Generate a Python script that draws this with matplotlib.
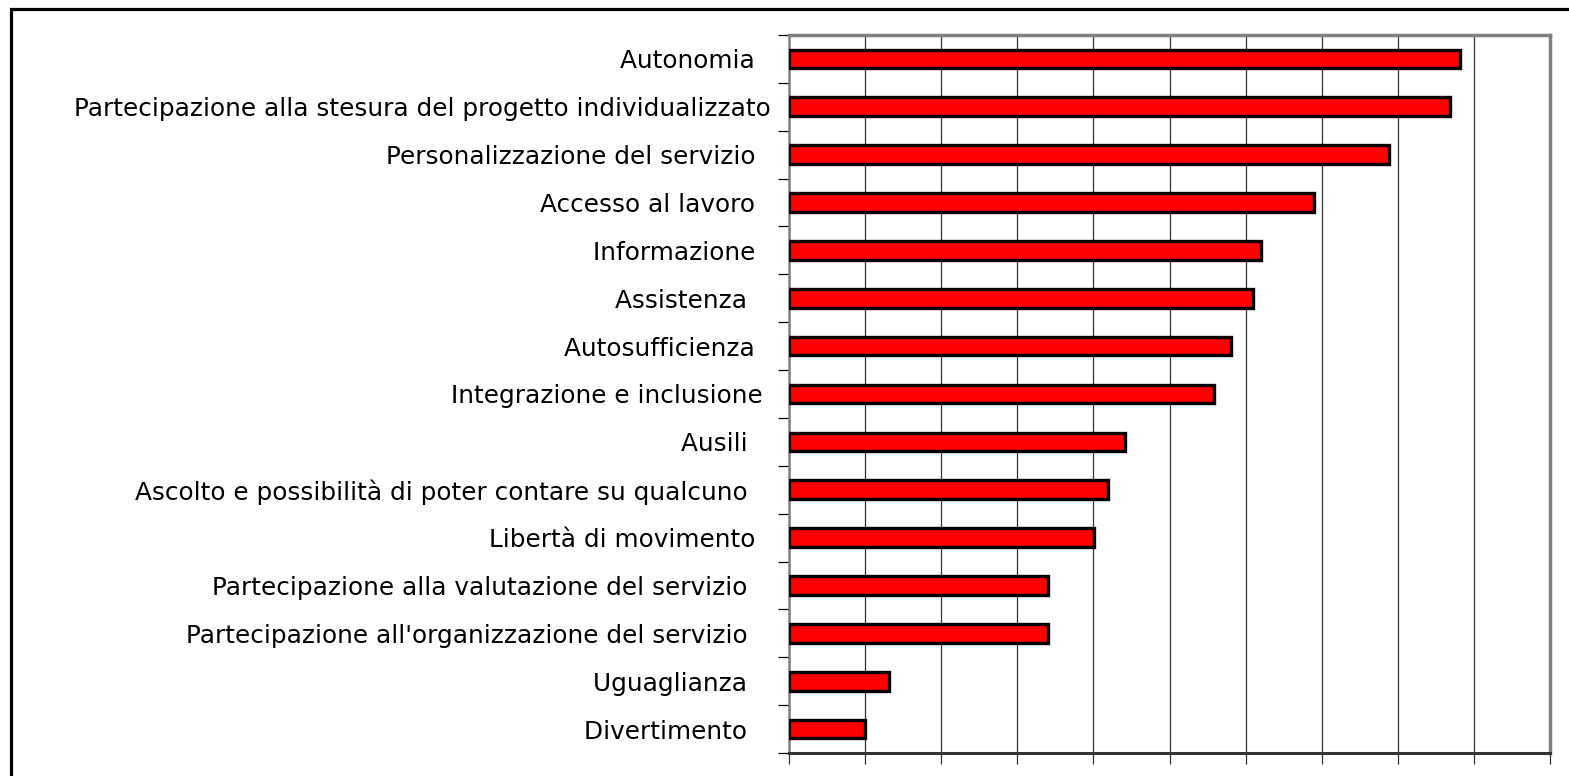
import numpy as np
import matplotlib
matplotlib.use("Agg")
import matplotlib.pyplot as plt
from matplotlib.patches import Rectangle

# categorie (dall'alto verso il basso) e valori
categorie = [
    "Autonomia  ",
    "Partecipazione alla stesura del progetto individualizzato",
    "Personalizzazione del servizio  ",
    "Accesso al lavoro  ",
    "Informazione  ",
    "Assistenza   ",
    "Autosufficienza  ",
    "Integrazione e inclusione ",
    "Ausili   ",
    "Ascolto e possibilità di poter contare su qualcuno   ",
    "Libertà di movimento  ",
    "Partecipazione alla valutazione del servizio   ",
    "Partecipazione all'organizzazione del servizio   ",
    "Uguaglianza   ",
    "Divertimento   ",
]
valori = [8.82, 8.69, 7.89, 6.90, 6.20, 6.10, 5.81, 5.59,
          4.41, 4.19, 4.01, 3.40, 3.40, 1.31, 1.00]

plt.rcParams['font.family'] = ['DejaVu Sans']

W, H = 1569, 776
fig = plt.figure(figsize=(W / 100, H / 100), dpi=100)
fig.patch.set_facecolor('white')

# cornice esterna nera (tagliata a destra e in basso)
fig.patches.append(Rectangle((11 / W, -0.1), 1.2, 1.1 - 9 / H,
                             transform=fig.transFigure, fill=False,
                             edgecolor='black', linewidth=2.3))

ax = fig.add_axes([789 / W, (H - 753) / H, (1550 - 789) / W, (753 - 35) / H])

y = np.arange(len(categorie))
ax.barh(y, valori, height=0.39, color='#ff0000', edgecolor='black',
        linewidth=2.4, zorder=3)

ax.set_xlim(0, 10)
ax.set_ylim(len(categorie) - 0.5, -0.5)

# griglia verticale
ax.set_xticks(np.arange(0, 11, 1))
ax.set_xticklabels([])
ax.xaxis.grid(True, color='#333333', linewidth=0.9, zorder=0)
ax.set_axisbelow(True)
ax.tick_params(axis='x', direction='out', length=8, width=0.9,
               color='#333333')

# tacche tra le categorie, etichette al centro
ax.set_yticks(np.arange(-0.5, len(categorie), 1))
ax.set_yticklabels([])
ax.set_yticks(y, minor=True)
ax.set_yticklabels(categorie, minor=True, fontsize=17.8, color='black')
ax.tick_params(axis='y', which='major', direction='out', length=8,
               width=0.9, color='black')
ax.tick_params(axis='y', which='minor', length=0, pad=13)

for s in ['top', 'right']:
    ax.spines[s].set_color('#808080')
    ax.spines[s].set_linewidth(2.5)
ax.spines['left'].set_color('#808080')
ax.spines['left'].set_linewidth(1.8)
ax.spines['bottom'].set_color('#333333')
ax.spines['bottom'].set_linewidth(2.2)

fig.savefig('out.png', dpi=100)
